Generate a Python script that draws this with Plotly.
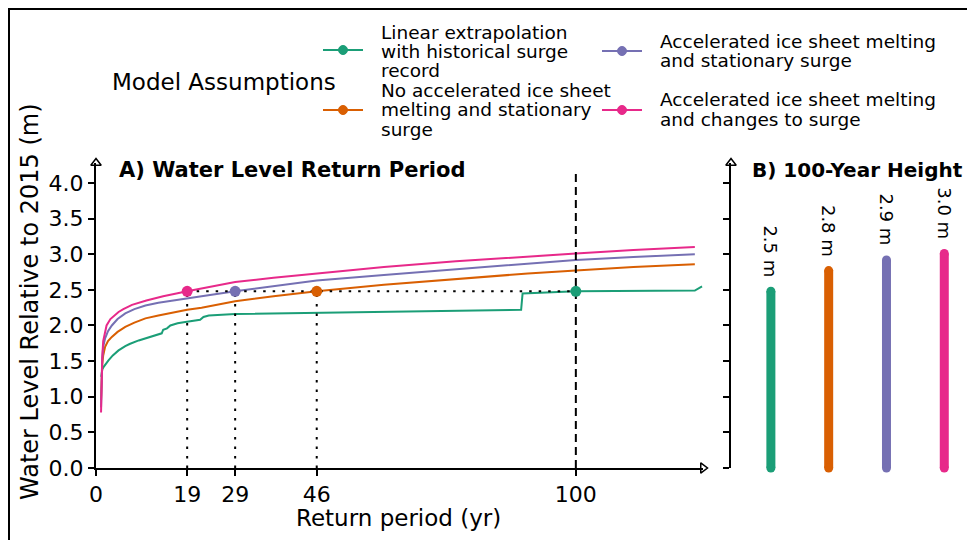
import plotly.graph_objects as go

# ---------------- data ----------------
series_names = [
    "Linear extrapolation\nwith historical surge\nrecord",
    "No accelerated ice sheet\nmelting and stationary\nsurge",
    "Accelerated ice sheet melting\nand stationary surge",
    "Accelerated ice sheet melting\nand changes to surge",
]
colors = ["#1b9e77", "#d95f02", "#7570b3", "#e7298a"]

green_rp = [1.1, 1.3, 1.6, 2.0, 2.6, 3.5, 4.7, 6.1, 7.0, 8.9, 10.5, 11.6, 13.0, 13.7, 14.0,
            14.8, 15.5, 17.0, 18.6, 21.7, 22.4, 23.5, 29, 46, 70, 88.6, 88.9, 95, 100, 124.8, 126.3]
green_wl = [1.28, 1.38, 1.42, 1.45, 1.51, 1.58, 1.65, 1.71, 1.74, 1.79, 1.82, 1.84, 1.87, 1.89, 1.94,
            1.96, 2.00, 2.03, 2.05, 2.08, 2.12, 2.14, 2.16, 2.18, 2.20, 2.22, 2.45, 2.47, 2.48, 2.49, 2.55]

orange_rp = [1.05, 1.15, 1.3, 1.5, 1.9, 2.5, 3.3, 4.5, 6.1, 8.0, 10.3, 13.0, 15.8, 19, 22, 29, 37,
             46, 60, 75, 90, 100, 112, 124.8]
orange_wl = [0.95, 1.25, 1.45, 1.58, 1.70, 1.78, 1.84, 1.91, 1.98, 2.04, 2.10, 2.14, 2.18, 2.22, 2.25, 2.34,
             2.41, 2.48, 2.57, 2.65, 2.73, 2.77, 2.82, 2.86]

purple_rp = [1.05, 1.15, 1.3, 1.5, 1.9, 2.5, 3.3, 4.5, 6.1, 8.0, 10.3, 13.0, 15.8, 19, 22, 29, 37,
             46, 60, 75, 90, 100, 112, 124.8]
purple_wl = [0.85, 1.25, 1.55, 1.70, 1.82, 1.92, 2.00, 2.09, 2.17, 2.23, 2.28, 2.32, 2.35, 2.38, 2.41, 2.48,
             2.55, 2.63, 2.71, 2.79, 2.87, 2.92, 2.96, 3.00]

pink_rp = [1.05, 1.15, 1.3, 1.5, 1.9, 2.2, 3.0, 3.6, 4.7, 5.7, 7.5, 10.5, 14.0, 19, 22, 29, 37,
           46, 60, 75, 90, 100, 112, 124.8]
pink_wl = [0.78, 1.25, 1.55, 1.78, 1.93, 2.00, 2.09, 2.13, 2.19, 2.23, 2.29, 2.35, 2.41, 2.48, 2.52, 2.61,
           2.67, 2.73, 2.82, 2.90, 2.97, 3.01, 3.06, 3.10]

curves_rp = [green_rp, orange_rp, purple_rp, pink_rp]
curves_wl = [green_wl, orange_wl, purple_wl, pink_wl]

# return period at which each scenario reaches today's 100-yr level
cross_rp = [100, 46, 29, 19]
cross_level = 2.48

# 100-year heights
height_100 = [2.48, 2.77, 2.92, 3.01]

x_ticks = [0, 19, 29, 46, 100]
y_ticks = [0.0, 0.5, 1.0, 1.5, 2.0, 2.5, 3.0, 3.5, 4.0]

# ---------------- layout geometry ----------------
# targets are given in screen pixels; the page body has an 8 px margin
W, H = 975, 540
OFF = 8
AX_L, AX_T, AX_B = 96, 163, 468          # screen px of plot area edges
ML = AX_L - OFF
MT = AX_T - OFF
MB = H - (AX_B - OFF)
MR = 0
PW = W - ML - MR
PH = H - MT - MB
FONT = "DejaVu Sans"

def px(xs):
    return (xs - AX_L) / PW

def py(ys):
    return (AX_B - ys) / PH

X_MAX = 126.5
Y_MAX = 4.28

fig = go.Figure()

# curves
for rp, wl, c in zip(curves_rp, curves_wl, colors):
    fig.add_trace(go.Scatter(x=rp, y=wl, mode="lines", line=dict(color=c, width=2),
                             showlegend=False, hoverinfo="skip"))

# dotted guide lines
fig.add_trace(go.Scatter(x=[min(cross_rp), max(cross_rp)], y=[cross_level, cross_level], mode="lines",
                         line=dict(color="black", width=2, dash="2.5px,7px"), showlegend=False))
for r in cross_rp[1:]:
    fig.add_trace(go.Scatter(x=[r, r], y=[0, cross_level], mode="lines",
                             line=dict(color="black", width=2, dash="2.5px,7px"), showlegend=False))
fig.add_trace(go.Scatter(x=[100, 100], y=[0, 4.18], mode="lines",
                         line=dict(color="black", width=2, dash="8px,5px"), showlegend=False))

# crossing markers
for r, c in zip(cross_rp, colors):
    fig.add_trace(go.Scatter(x=[r], y=[cross_level], mode="markers",
                             marker=dict(color=c, size=11), showlegend=False))

# axis arrows
fig.add_trace(go.Scatter(x=[0], y=[Y_MAX], mode="markers", cliponaxis=False,
                         marker=dict(symbol="triangle-up", size=9, color="white",
                                     line=dict(color="black", width=1.5)), showlegend=False))
fig.add_trace(go.Scatter(x=[X_MAX], y=[0], mode="markers", cliponaxis=False,
                         marker=dict(symbol="triangle-right", size=9, color="white",
                                     line=dict(color="black", width=1.5)), showlegend=False))

# panel B bars
B_LEFT, B_RIGHT = -0.69, 3.67
for i, (h, c) in enumerate(zip(height_100, colors)):
    fig.add_trace(go.Scatter(x=[i, i], y=[0, h], mode="lines+markers", xaxis="x2", yaxis="y2",
                             line=dict(color=c, width=9), marker=dict(color=c, size=9),
                             showlegend=False, cliponaxis=False))
    fig.add_annotation(x=i, y=h, xref="x2", yref="y2", text=f"{h:.1f} m", showarrow=False,
                       textangle=90, yanchor="bottom", xanchor="center", yshift=12,
                       font=dict(family=FONT, size=18, color="black"))
fig.add_trace(go.Scatter(x=[B_LEFT], y=[Y_MAX], mode="markers", xaxis="x2", yaxis="y2", cliponaxis=False,
                         marker=dict(symbol="triangle-up", size=9, color="white",
                                     line=dict(color="black", width=1.5)), showlegend=False))

axis_common = dict(showgrid=False, zeroline=False, showline=True, linecolor="black", linewidth=2,
                   ticks="outside", ticklen=6, tickwidth=1.5, tickcolor="black",
                   tickfont=dict(family=FONT, size=22, color="black"))

fig.update_layout(
    width=W, height=H, margin=dict(l=ML, r=MR, t=MT, b=MB),
    paper_bgcolor="white", plot_bgcolor="white", showlegend=False,
    xaxis=dict(domain=[0, px(703)], range=[0, X_MAX], tickvals=x_ticks,
               ticktext=[str(t) for t in x_ticks], **axis_common),
    yaxis=dict(domain=[0, 1], range=[0, Y_MAX], tickvals=y_ticks,
               ticktext=[f"{t:.1f}" for t in y_ticks], **axis_common),
    xaxis2=dict(domain=[px(731), 1], range=[B_LEFT, B_RIGHT], visible=False),
    yaxis2=dict(domain=[0, 1], range=[0, Y_MAX], anchor="x2", tickvals=y_ticks,
                showticklabels=False, **{k: v for k, v in axis_common.items() if k != "tickfont"}),
)

# axis titles
fig.add_annotation(x=px(398), y=py(518), xref="paper", yref="paper", text="Return period (yr)",
                   xanchor="center", yanchor="middle", showarrow=False,
                   font=dict(family=FONT, size=23, color="black"))
fig.add_annotation(x=px(30), y=py(302), xref="paper", yref="paper",
                   text="Water Level Relative to 2015 (m)", textangle=-90, showarrow=False,
                   xanchor="center", yanchor="middle",
                   font=dict(family=FONT, size=24, color="black"))

# panel titles
fig.add_annotation(x=px(117), y=py(170), xref="paper", yref="paper", xanchor="left", yanchor="middle",
                   text="<b>A) Water Level Return Period</b>", showarrow=False,
                   font=dict(family=FONT, size=21, color="black"))
fig.add_annotation(x=px(750), y=py(170), xref="paper", yref="paper", xanchor="left", yanchor="middle",
                   text="<b>B) 100-Year Height</b>", showarrow=False,
                   font=dict(family=FONT, size=20, color="black"))

# legend (manual, two columns)
fig.add_annotation(x=px(110), y=py(82), xref="paper", yref="paper", xanchor="left", yanchor="middle",
                   text="Model Assumptions", showarrow=False,
                   font=dict(family=FONT, size=23, color="black"))
leg_pos = [  # symbol x0, marker y, text x, first line y
    (323, 50, 379, 32),
    (323, 110, 379, 90),
    (602, 51, 658, 41),
    (602, 110, 658, 100),
]
for k, (sx, sy, tx, ty) in enumerate(leg_pos):
    c = colors[k]
    fig.add_shape(type="line", xref="paper", yref="paper", x0=px(sx), x1=px(sx + 40),
                  y0=py(sy), y1=py(sy), line=dict(color=c, width=2))
    fig.add_shape(type="circle", xref="paper", yref="paper", xsizemode="pixel", ysizemode="pixel",
                  xanchor=px(sx + 20), yanchor=py(sy), x0=-4.5, x1=4.5, y0=-4.5, y1=4.5,
                  fillcolor=c, line=dict(color=c, width=1))
    for j, line in enumerate(series_names[k].split("\n")):
        fig.add_annotation(x=px(tx), y=py(ty + 19.5 * j), xref="paper", yref="paper",
                           xanchor="left", yanchor="middle", text=line, showarrow=False,
                           font=dict(family=FONT, size=18.5, color="black"))

# outer frame
fig.add_shape(type="rect", xref="paper", yref="paper", x0=px(9), x1=px(1010), y0=py(600), y1=py(9),
              line=dict(color="black", width=2), fillcolor="rgba(0,0,0,0)", layer="above")

fig.write_html("out.html")
